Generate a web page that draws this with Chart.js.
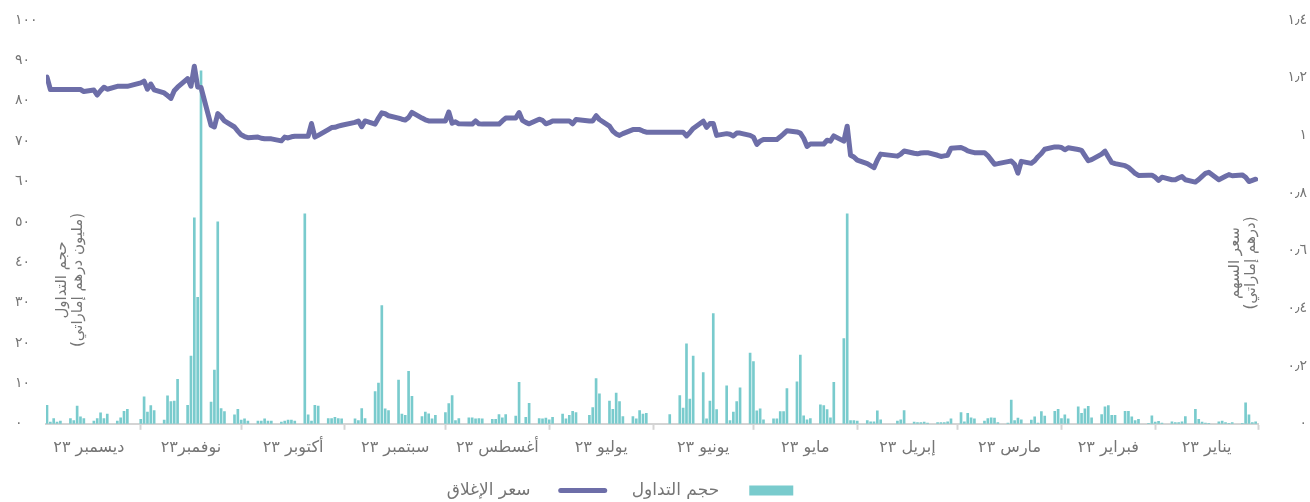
<!DOCTYPE html>
<html lang="ar">
<head>
<meta charset="utf-8">
<title>حجم التداول وسعر الإغلاق ٢٠٢٣</title>
<script src="https://cdn.jsdelivr.net/npm/chart.js@4.4.1/dist/chart.umd.min.js"></script>
<style>
  html, body { margin: 0; padding: 0; background: #fff; }
  #chart { display: block; }
</style>
</head>
<body>
<canvas id="chart" width="1310" height="502"></canvas>
<script>
/* globals Chart:false */
'use strict'

const YEAR = 2023

// month names as printed under the axis (Jan .. Dec)
const monthLabels = ['يناير ٢٣', 'فبراير ٢٣', 'مارس ٢٣', 'إبريل ٢٣', 'مايو ٢٣', 'يونيو ٢٣',
  'يوليو ٢٣', 'أغسطس ٢٣', 'سبتمبر ٢٣', 'أكتوبر ٢٣', 'نوفمبر٢٣', 'ديسمبر ٢٣']

// trading volume, million AED, one value per weekday of the month (null = market closed)
const volJan = [0.5, 0.3, 2.2, 5.2, 0.1, 0.3, 0.1, 0.3, 0.7, 0.5, 0.1, 0.2, 0.4, 1.1, 3.6, 1.8, 0.5, 0.3, 0.3, 0.5, 0.2, 0.6]
const volFeb = [0.4, 2.0, 0.1, 1.1, 0.8, 1.7, 3.1, 3.1, 2.1, 2.1, 4.5, 4.2, 2.3, 1.5, 4.3, 3.7, 2.6, 4.2, 1.2, 2.2]
const volMar = [1.3, 3.6, 3.1, 1.9, 3.0, 0.2, 1.7, 0.9, 1.0, 1.4, 0.8, 5.9, 0.2, 0.3, 1.4, 1.5, 1.3, 0.7, 1.2, 1.5, 2.6, 0.5, 2.8]
const volApr = [1.2, 0.5, 0.3, 0.3, 0.3, 0.2, 0.4, 0.3, 0.3, 0.4, 3.3, 1.0, 0.7, null, null, 1.0, 3.2, 0.5, 0.5, 0.8]
const volMay = [0.7, 0.8, 0.8, 52, 21.1, 10.3, 1.5, 3.5, 4.5, 4.7, 1.3, 1.0, 2.0, 17.0, 10.4, 8.7, 3.0, 3.0, 1.2, 1.2, 1.0, 3.7, 3.2]
const volJun = [15.4, 17.5, 8.9, 5.5, 2.9, 0.8, 9.4, 3.5, 27.3, 5.6, 1.2, 12.7, 16.8, 6.1, 19.8, 3.9, 7.0, 2.3, null, null, null, null]
const volJul = [2.6, 2.4, 3.3, 1.2, 1.8, 1.8, 5.5, 7.6, 3.6, 5.6, 7.4, 11.2, 4.0, 2.1, null, 2.8, 3.1, 2.1, 1.2, 2.4, 1.6]
const volAug = [1.0, 1.4, 1.2, 1.3, 5.1, 1.6, 0, 10.3, 1.9, 2.3, 1.5, 2.3, 1.1, 1.1, 1.2, 1.3, 1.2, 1.5, 1.5, 1.3, 0.8, 7.0, 5.0]
const volSep = [2.8, 2.1, 1.2, 2.5, 2.9, 1.8, 6.8, 13.0, 2.1, 2.4, 10.8, 3.3, 3.7, 29.3, 10.1, 8.0, 1.3, 3.8, 0.8, 1.2, null]
const volOct = [1.2, 1.3, 1.6, 1.3, 1.3, 4.4, 4.6, 0.7, 2.2, 52, 0.7, 0.9, 0.9, 0.7, 0.4, 0.7, 0.7, 1.2, 0.7, 0.7, 0.7, 1.2]
const volNov = [0.9, 3.6, 2.2, 3.0, 3.8, 50, 13.3, 5.4, 87.4, 31.3, 51, 16.8, 4.6, 11.0, 5.6, 5.5, 6.9, 0.9, 3.3, 4.5, 2.9, 6.7]
const volDec = [1.1, null, 3.6, 3.1, 1.5, 0.7, 2.4, 1.3, 2.7, 1.3, 0.7, 1.3, 1.7, 4.4, 0.8, 1.3, 0.7, 0.4, 1.3, 0.4, 4.6]

// closing price, AED, same days
const priceJan = [0.848, 0.844, 0.840, 0.855, 0.863, 0.860, 0.864, 0.858, 0.852, 0.846, 0.872, 0.868, 0.858, 0.847, 0.838, 0.846, 0.857, 0.852, 0.846, 0.846, 0.855, 0.844]
const priceFeb = [0.855, 0.862, 0.862, 0.861, 0.868, 0.879, 0.889, 0.895, 0.902, 0.906, 0.925, 0.945, 0.935, 0.916, 0.912, 0.930, 0.948, 0.951, 0.957, 0.950]
const priceMar = [0.958, 0.960, 0.960, 0.952, 0.937, 0.926, 0.912, 0.903, 0.910, 0.869, 0.900, 0.911, 0.909, 0.902, 0.900, 0.915, 0.930, 0.940, 0.940, 0.943, 0.946, 0.953, 0.958]
const priceApr = [0.955, 0.931, 0.929, 0.927, 0.931, 0.940, 0.940, 0.939, 0.936, 0.938, 0.946, 0.935, 0.928, null, null, 0.935, 0.915, 0.888, 0.895, 0.902]
const priceMay = [0.914, 0.925, 0.931, 1.032, 0.980, 0.998, 0.980, 0.983, 0.970, 0.970, 0.970, 0.962, 0.990, 1.008, 1.012, 1.016, 1.005, 0.995, 0.986, 0.986, 0.986, 0.980, 0.969]
const priceJun = [0.994, 1.000, 1.008, 1.008, 0.998, 1.004, 1.006, 1.000, 1.041, 1.041, 1.028, 1.049, 1.024, 1.010, 0.998, 1.011, 1.011, 1.011, null, null, null, null]
const priceJul = [1.011, 1.015, 1.020, 1.020, 1.020, 1.006, 1.000, 1.005, 1.015, 1.032, 1.055, 1.068, 1.050, 1.050, null, 1.055, 1.040, 1.050, 1.050, 1.050, 1.050]
const priceAug = [1.044, 1.040, 1.052, 1.056, 1.040, 1.045, 1.052, 1.079, 1.060, 1.060, 1.050, 1.039, 1.039, 1.039, 1.039, 1.040, 1.050, 1.039, 1.039, 1.040, 1.047, 1.042, 1.081]
const priceSep = [1.050, 1.050, 1.050, 1.050, 1.054, 1.060, 1.080, 1.062, 1.053, 1.056, 1.060, 1.068, 1.075, 1.078, 1.060, 1.039, 1.050, 1.030, 1.050, 1.045, null]
const priceOct = [1.035, 1.032, 1.028, 1.027, 1.020, 1.000, 0.994, 1.041, 0.997, 0.997, 0.997, 0.995, 0.991, 0.994, 0.981, 0.988, 0.988, 0.988, 0.990, 0.994, 0.992, 0.996]
const priceNov = [1.002, 1.015, 1.029, 1.050, 1.065, 1.075, 1.029, 1.035, 1.166, 1.168, 1.240, 1.170, 1.197, 1.167, 1.155, 1.128, 1.138, 1.147, 1.158, 1.178, 1.160, 1.188]
const priceDec = [1.182, null, 1.170, 1.170, 1.170, 1.170, 1.160, 1.167, 1.155, 1.140, 1.157, 1.152, 1.159, 1.159, 1.159, 1.159, 1.159, 1.159, 1.159, 1.159, 1.202]

const volumeByMonth = [volJan, volFeb, volMar, volApr, volMay, volJun, volJul, volAug, volSep, volOct, volNov, volDec]
const priceByMonth = [priceJan, priceFeb, priceMar, priceApr, priceMay, priceJun, priceJul, priceAug, priceSep, priceOct, priceNov, priceDec]

const volumeTicks = [0, 10, 20, 30, 40, 50, 60, 70, 80, 90, 100]
const priceTicks = [0, 0.2, 0.4, 0.6, 0.8, 1, 1.2, 1.4]

const volumeLabel = 'حجم التداول'
const priceLabel = 'سعر الإغلاق'
const volumeTitle = ['حجم التداول', '(مليون درهم إماراتي)']
const priceTitle = ['سعر السهم', '(درهم إماراتي)']

const BAR_COLOR = '#79cbcd'
const LINE_COLOR = '#6d6ea8'
const TEXT_COLOR = '#757575'
const AXIS_COLOR = '#d4d4d4'
const FONT = "'DejaVu Sans', 'Noto Sans', sans-serif"

// x axis range in days from 1 Jan (last session 29 Dec)
const X_MIN = 0.3
const X_MAX = 362.3

const DAY = 86400000
const yearStart = Date.UTC(YEAR, 0, 1)


function dayOfYear (month, date) {
  return (Date.UTC(YEAR, month, date) - yearStart) / DAY
}


// weekdays (Mon-Fri) of a month, as day-of-year numbers
function weekdays (month) {
  const days = []
  for (let d = 1; d <= 31; d++) {
    const dt = new Date(Date.UTC(YEAR, month, d))
    if (dt.getUTCMonth() !== month) break
    const wd = dt.getUTCDay()
    if (wd !== 0 && wd !== 6) days.push(dayOfYear(month, d))
  }
  return days
}


function arabicDigits (s) {
  return String(s).replace(/[0-9]/g, d => '٠١٢٣٤٥٦٧٨٩'[d]).replace('.', '٫')
}


let volumePoints = []
let pricePoints = []
volumeByMonth.forEach((vols, m) => {
  const days = weekdays(m)
  days.forEach((day, i) => {
    if (i < vols.length) volumePoints.push({x: day, y: vols[i]})
    if (i < priceByMonth[m].length) pricePoints.push({x: day, y: priceByMonth[m][i]})
  })
})

// tick marks at month starts, labels in the middle of each month.
// listed from the left edge (December) so the reversed axis pads correctly
let axisTicks = []
for (let m = 11; m >= 0; m--) {
  const start = Math.max(dayOfYear(m, 1), X_MIN)
  const next = dayOfYear(m + 1, 1)
  axisTicks.push({value: (start + next) / 2, label: monthLabels[m], mark: false})
  axisTicks.push({value: start, label: '', mark: true})
}
if (axisTicks[0].value > X_MAX) axisTicks[0].value = (dayOfYear(11, 1) + X_MAX) / 2


const axisTitles = {
  id: 'axisTitles',
  afterDraw (chart) {
    const {ctx, chartArea} = chart
    ctx.save()
    ctx.fillStyle = TEXT_COLOR
    ctx.font = '15px ' + FONT
    ctx.textAlign = 'center'
    ctx.textBaseline = 'middle'
    ctx.direction = 'rtl'
    const draw = (lines, x, y) => {
      ctx.save()
      ctx.translate(x, y)
      ctx.rotate(-Math.PI / 2)
      ctx.fillText(lines[0], 0, -8)
      ctx.fillText(lines[1], 0, 8)
      ctx.restore()
    }
    draw(volumeTitle, chartArea.left + 24, chartArea.top + 260)
    draw(priceTitle, chartArea.right - 15, chartArea.top + 243)
    ctx.restore()
  }
}


// nudge the legend to where the original puts it
const legendShift = {
  id: 'legendShift',
  afterLayout (chart) {
    const lg = chart.legend
    lg.left -= 41
    lg.right -= 41
    lg.top -= 10
    lg.bottom -= 10
  }
}


function tickMarkColor (ctx) {
  if (ctx.tick && axisTicks[ctx.index] && axisTicks[ctx.index].mark) return AXIS_COLOR
  return 'rgba(0,0,0,0)'
}


let chart = new Chart(document.getElementById('chart'), {
  type: 'line',
  data: {
    datasets: [{
      type: 'bar',
      label: volumeLabel,
      data: volumePoints,
      xAxisID: 'x',
      yAxisID: 'yVol',
      backgroundColor: BAR_COLOR,
      borderWidth: 0,
      barThickness: 2,
      order: 1
    }, {
      type: 'line',
      label: priceLabel,
      data: pricePoints,
      xAxisID: 'x',
      yAxisID: 'yPrice',
      borderColor: LINE_COLOR,
      backgroundColor: LINE_COLOR,
      borderWidth: 5,
      borderJoinStyle: 'round',
      borderCapStyle: 'round',
      pointRadius: 0,
      tension: 0,
      spanGaps: true,
      order: 0
    }]
  },
  options: {
    responsive: false,
    animation: false,
    events: [],
    layout: {
      padding: {left: 15, right: 3, top: 20, bottom: -17}
    },
    plugins: {
      tooltip: {enabled: false},
      legend: {
        position: 'bottom',
        rtl: true,
        textDirection: 'rtl',
        labels: {
          usePointStyle: true,
          pointStyleWidth: 44,
          boxHeight: 10,
          padding: 27,
          color: TEXT_COLOR,
          font: {family: FONT, size: 17},
          sort: (a, b) => a.datasetIndex - b.datasetIndex,
          generateLabels: function (chart) {
            const items = Chart.defaults.plugins.legend.labels.generateLabels(chart)
            items.forEach(item => {
              item.text = '\u00a0\u00a0\u00a0\u00a0' + item.text
              if (item.datasetIndex === 0) {
                item.pointStyle = 'rect'
                item.fillStyle = BAR_COLOR
                item.lineWidth = 0
              } else {
                item.pointStyle = 'line'
                item.strokeStyle = LINE_COLOR
                item.lineWidth = 5
                item.lineCap = 'round'
              }
            })
            return items
          }
        }
      }
    },
    scales: {
      x: {
        type: 'linear',
        reverse: true,
        offset: false,
        min: X_MIN,
        max: X_MAX,
        afterBuildTicks: scale => {
          scale.ticks = axisTicks.map(t => ({value: t.value}))
        },
        ticks: {
          autoSkip: false,
          maxRotation: 0,
          padding: 8,
          color: TEXT_COLOR,
          font: {family: FONT, size: 16},
          callback: (value, index) => axisTicks[index].label
        },
        grid: {
          offset: false,
          drawOnChartArea: false,
          tickLength: 6,
          tickWidth: 2,
          tickColor: tickMarkColor
        },
        border: {display: true, color: AXIS_COLOR, width: 2}
      },
      yVol: {
        type: 'linear',
        position: 'left',
        min: 0,
        max: 100,
        afterBuildTicks: scale => {
          scale.ticks = volumeTicks.map(v => ({value: v}))
        },
        afterFit: scale => { scale.width = 31 },
        ticks: {
          crossAlign: 'far',
          color: TEXT_COLOR,
          font: {family: FONT, size: 14},
          callback: value => arabicDigits(value)
        },
        grid: {display: false},
        border: {display: false}
      },
      yPrice: {
        type: 'linear',
        position: 'right',
        min: 0,
        max: 1.4,
        afterBuildTicks: scale => {
          scale.ticks = priceTicks.map(v => ({value: v}))
        },
        afterFit: scale => { scale.width = 49 },
        ticks: {
          crossAlign: 'far',
          color: TEXT_COLOR,
          font: {family: FONT, size: 14},
          callback: value => arabicDigits(Math.round(value * 10) / 10)
        },
        grid: {display: false},
        border: {display: false}
      }
    }
  },
  plugins: [axisTitles, legendShift]
})
</script>
</body>
</html>
